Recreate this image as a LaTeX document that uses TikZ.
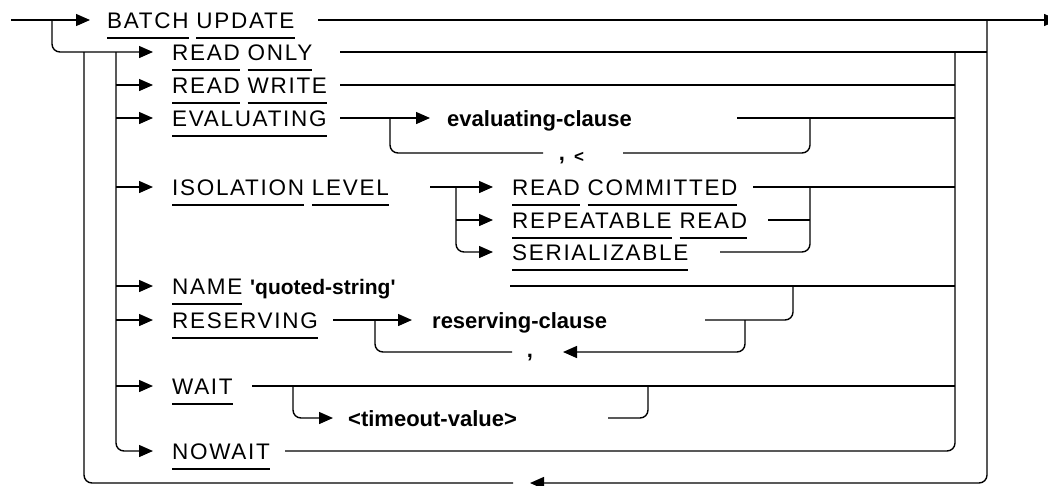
\documentclass[tikz,border=0pt]{standalone}
\usepackage{fontspec}
\usetikzlibrary{arrows.meta}
\newfontfamily\kwfont{Liberation Sans}[LetterSpace=7.5]
\newfontfamily\idfont{Liberation Sans}
\newcommand\kw[1]{\setbox0=\hbox{#1}\rlap{\vrule height -9.3pt depth 10.7pt width \wd0}\box0\relax}
\tikzset{
  ln/.style={line width=1.4pt},
  arr/.style={ln,-{Triangle[length=14pt,width=12pt]}},
  kwn/.style={anchor=west,inner sep=0pt,text height=16pt,text depth=0pt,font=\kwfont\fontsize{22.5}{26}\selectfont},
  idn/.style={anchor=west,inner sep=0pt,text height=16pt,text depth=0pt,font=\idfont\bfseries\fontsize{22}{26}\selectfont},
  sepn/.style={anchor=base,inner sep=0pt,font=\idfont\bfseries\fontsize{22}{26}\selectfont},
  rc/.style={rounded corners=8pt}
}
\begin{document}
\begin{tikzpicture}[x=1pt,y=-1pt]
\useasboundingbox (0,0) rectangle (1048,485);
% text nodes
\node[kwn] (bu) at (107,20) {\kw{BATCH} \kw{UPDATE}};
\node[kwn] (ro) at (172,52) {\kw{READ} \kw{ONLY}};
\node[kwn] (rw) at (172,85) {\kw{READ} \kw{WRITE}};
\node[kwn] (ev) at (172,118) {\kw{EVALUATING}};
\node[idn] (evc) at (447,118) {evaluating-clause};
\node[kwn] (il) at (172,187) {\kw{ISOLATION} \kw{LEVEL}};
\node[kwn] (rcm) at (512,187) {\kw{READ} \kw{COMMITTED}};
\node[kwn] (rr) at (512,220) {\kw{REPEATABLE} \kw{READ}};
\node[kwn] (se) at (512,252) {\kw{SERIALIZABLE}};
\node[kwn] (nm) at (172,286) {\kw{NAME} {\idfont\bfseries\fontsize{21}{26}\selectfont\textquotesingle quoted-string\textquotesingle}};
\node[kwn] (rs) at (172,320) {\kw{RESERVING}};
\node[idn] (rsc) at (432,320) {reserving-clause};
\node[kwn] (wt) at (172,386) {\kw{WAIT}};
\node[idn] (tv) at (348,418) {<timeout-value>};
\node[kwn] (nw) at (172,451) {\kw{NOWAIT}};
\node[sepn] (c1) at (562,160) {,};
\node[sepn,font=\idfont\bfseries\fontsize{17}{20}\selectfont] (lt1) at (579,162) {<};
\node[sepn] (c2) at (530,357) {,};
% coordinates
\coordinate (start) at (11,20);
\coordinate (bue) at (318,20);
\coordinate (end) at (1058,20);
\coordinate (j0) at (52,20);
\coordinate (s0) at (116,52);
\coordinate (l0) at (84,52);
\coordinate (lb) at (513,483);
\coordinate (lbr) at (530,483);
\coordinate (rtop) at (987,20);
\coordinate (i0) at (955,52);
\coordinate (roe) at (340,52);
\coordinate (rwe) at (340,85);
\coordinate (eve) at (340,118);
\coordinate (evj) at (390,118);
\coordinate (evl) at (543,153);
\coordinate (evr) at (623,153);
\coordinate (evm) at (810,118);
\coordinate (evce) at (737,118);
\coordinate (ile) at (430,187);
\coordinate (ilj) at (456,187);
\coordinate (rce) at (753,187);
\coordinate (rre) at (768,220);
\coordinate (isom) at (810,220);
\coordinate (see) at (720,252);
\coordinate (nme) at (510,286);
\coordinate (rse) at (333,320);
\coordinate (rsj) at (375,320);
\coordinate (rsl) at (512,352);
\coordinate (rsa) at (563,352);
\coordinate (rsr) at (745,320);
\coordinate (rsce) at (705,320);
\coordinate (rsm) at (793,286);
\coordinate (wte) at (252,386);
\coordinate (wtj) at (293,386);
\coordinate (tve) at (608,418);
\coordinate (wtm) at (648,386);
\coordinate (nwe) at (285,451);
% main line
\draw[arr,shorten >=17pt] (start) -- (bu.west);
\draw[arr] (bue) -- (end);
% branch into items
\draw[arr,rc,shorten >=19pt] (j0) |- (ro.west);
\draw[arr,rc,shorten >=19pt] (s0) |- (nw.west);
\foreach \n in {rw,ev,il,nm,rs,wt} \draw[arr,shorten >=19pt] (s0 |- \n.west) -- (\n.west);
% repeat loop
\draw[ln,rc] (lb) -| (l0);
\draw[arr,rc] (rtop) |- (lbr);
% right collector
\draw[ln] (roe) -- (rtop |- roe);
\draw[ln,rc] (i0) |- (nwe);
\draw[ln] (rwe) -- (i0 |- rwe);
% evaluating
\draw[arr,shorten >=17pt] (eve) -- (evc.west);
\draw[ln,rc] (evj) |- (evl);
\draw[ln,rc] (evr) -| (evm);
\draw[ln] (evce) -- (i0 |- evce);
% isolation level
\draw[arr,shorten >=19pt] (ile) -- (rcm.west);
\draw[arr,rc,shorten >=19pt] (ilj) |- (se.west);
\draw[arr,shorten >=19pt] (ilj |- rr.west) -- (rr.west);
\draw[ln] (rce) -- (i0 |- rce);
\draw[ln] (rre) -- (isom);
\draw[ln,rc] (see) -| (isom |- rce);
% name
\draw[ln] (nme) -- (i0 |- nme);
% reserving
\draw[arr,shorten >=20pt] (rse) -- (rsc.west);
\draw[ln,rc] (rsj) |- (rsl);
\draw[arr,rc] (rsr) |- (rsa);
\draw[ln,rc] (rsce) -| (rsm);
% wait
\draw[ln] (wte) -- (i0 |- wte);
\draw[arr,rc,shorten >=15pt] (wtj) |- (tv.west);
\draw[ln,rc] (tve) -| (wtm);
\end{tikzpicture}
\end{document}
